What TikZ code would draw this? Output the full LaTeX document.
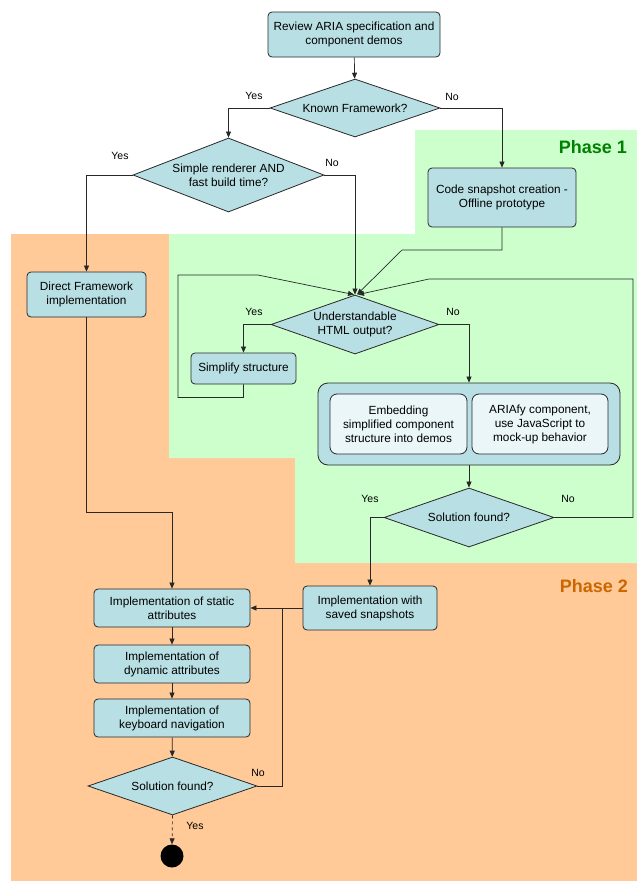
\documentclass[tikz,border=0pt]{standalone}
\usepackage{fontspec}
\setmainfont{Liberation Sans}
\usetikzlibrary{shapes.geometric,arrows.meta}
\definecolor{nodeblue}{RGB}{184,223,227}
\definecolor{innerblue}{RGB}{234,246,248}
\definecolor{greenbg}{RGB}{204,255,204}
\definecolor{orangebg}{RGB}{255,201,152}
\definecolor{phaseone}{RGB}{0,128,0}
\definecolor{phasetwo}{RGB}{204,102,0}
\definecolor{linegray}{RGB}{40,40,40}
\begin{document}
\begin{tikzpicture}[x=1pt,y=-1pt,
  every node/.style={font=\fontsize{11.8}{14}\selectfont},
  box/.style={draw=linegray, line width=0.8pt, fill=nodeblue, rounded corners=4pt, align=center, inner sep=0pt},
  innerbox/.style={box, fill=innerblue, rounded corners=7pt},
  dec/.style={diamond, aspect=2.9, draw=linegray, line width=0.8pt, fill=nodeblue, align=center, inner sep=0pt},
  lbl/.style={font=\fontsize{10.5}{12}\selectfont, inner sep=0pt},
  conn/.style={draw=linegray, line width=0.7pt},
  arr/.style={conn, -{Triangle[length=6pt,width=5pt]}},
  phase/.style={font=\fontsize{18}{20}\selectfont\bfseries, inner sep=0pt, anchor=east}
]
\useasboundingbox (0,0) rectangle (637,881);
% backgrounds
\fill[orangebg] (11,234) rectangle (637,881);
\fill[greenbg] (415,130) -- (637,130) -- (637,563) -- (295,563) -- (295,458) -- (169,458) -- (169,234) -- (415,234) -- cycle;
\node[phase, text=phaseone] (ph1) at (627,147) {Phase 1};
\node[phase, text=phasetwo] (ph2) at (628,586) {Phase 2};

% nodes
\node[box, minimum width=172pt, minimum height=45pt] (review) at (354,34.5) {Review ARIA specification and\\component demos};
\node[dec, minimum width=170pt, minimum height=58pt] (known) at (355,108) {Known Framework?};
\node[dec, aspect=2.58, minimum width=191pt, minimum height=74pt] (simple) at (228.5,175) {Simple renderer AND\\fast build time?};
\node[box, minimum width=148pt, minimum height=59pt] (code) at (502,197.5) {Code snapshot creation -\\Offline prototype};
\node[box, minimum width=119pt, minimum height=45pt] (direct) at (86.5,294.5) {Direct Framework\\implementation};
\node[dec, aspect=2.85, minimum width=168pt, minimum height=59pt] (und) at (355,324.5) {Understandable\\HTML output?};
\node[box, minimum width=105pt, minimum height=31pt] (simp) at (243.5,368.5) {Simplify structure};
\node[box, rounded corners=10pt, minimum width=302pt, minimum height=82pt] (cont) at (469,424) {};
\node[innerbox, minimum width=137pt, minimum height=60pt] (emb) at (398.5,424) {Embedding\\simplified component\\structure into demos};
\node[innerbox, minimum width=136pt, minimum height=60pt] (aria) at (540,424) {ARIAfy component,\\use JavaScript to\\mock-up behavior};
\node[dec, minimum width=170pt, minimum height=59pt] (sol1) at (469,517.5) {Solution found?};
\node[box, minimum width=134pt, minimum height=44pt] (saved) at (370,608) {Implementation with\\saved snapshots};
\node[box, minimum width=156pt, minimum height=38pt] (static) at (172,608) {Implementation of static\\attributes};
\node[box, minimum width=156pt, minimum height=38pt] (dyn) at (172,664) {Implementation of\\dynamic attributes};
\node[box, minimum width=156pt, minimum height=38pt] (kbd) at (172,718) {Implementation of\\keyboard navigation};
\node[dec, minimum width=169pt, minimum height=58pt] (sol2) at (172.5,786) {Solution found?};
\node[circle, fill=black, minimum size=23pt, inner sep=0pt] (endc) at (172,856) {};

% helper coordinates
\coordinate (c1) at (402,250);
\coordinate (l1) at (178,275);
\coordinate (l2) at (258,275);
\coordinate (r1) at (633,279);
\coordinate (r2) at (429,279);
\coordinate (j1) at (282,608);

% connectors
\draw[arr] (review) -- (known);
\draw[arr] (known.west) -| (simple.north);
\draw[arr] (known.east) -| (code.north);
\draw[arr] (simple.west) -| (direct.north);
\draw[arr] (simple.east) -| (und.north);
\draw[arr] (code.south) |- (c1) -- ([xshift=2pt]und.north);
\draw[arr] (simp.south) -- ++(0,13) -| (l1) -- (l2) -- ([xshift=-1pt]und.north);
\draw[arr] (sol1.east) -| (r1) -- (r2) -- ([xshift=3pt]und.north);
\draw[arr] (und.west) -| (simp.north);
\draw[arr] (und.east) -| (cont.north);
\draw[arr] (cont) -- (sol1);
\draw[arr] (sol1.west) -| (saved.north);
\draw[arr] (saved.west) -- (static.east);
\draw[conn] (sol2.east) -| (j1);
\draw[arr] (direct.south) -- ++(0,195) -| (static.north);
\draw[arr] (static) -- (dyn);
\draw[arr] (dyn) -- (kbd);
\draw[arr] (kbd) -- (sol2);
\draw[arr, dashed] (sol2.south) -- (endc.north);

% labels
\node[lbl] (y1) at (254,96) {Yes};
\node[lbl] (n1) at (452,97) {No};
\node[lbl] (y2) at (120,156) {Yes};
\node[lbl] (n2) at (332,163) {No};
\node[lbl] (y3) at (254,312) {Yes};
\node[lbl] (n3) at (453,312) {No};
\node[lbl] (y4) at (370,499) {Yes};
\node[lbl] (n4) at (568,499) {No};
\node[lbl] (n5) at (258,773) {No};
\node[lbl] (y5) at (195,826) {Yes};
\end{tikzpicture}
\end{document}
